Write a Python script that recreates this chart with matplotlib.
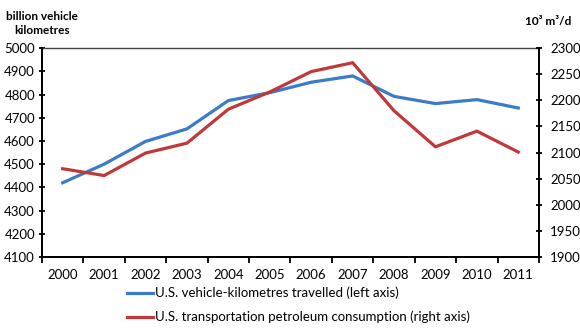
import matplotlib.pyplot as plt
from matplotlib.lines import Line2D

plt.rcParams['font.family'] = ['Lato', 'DejaVu Sans']

years = ["2000", "2001", "2002", "2003", "2004", "2005",
         "2006", "2007", "2008", "2009", "2010", "2011"]
vkt = [4420, 4500, 4598, 4652, 4774, 4808, 4853, 4880, 4792, 4761, 4778, 4742]
petrol = [2069, 2056, 2099, 2118, 2183, 2216, 2255, 2272, 2180, 2111, 2141, 2101]

blue = "#3b7bc8"
red = "#c0393a"

fig = plt.figure(figsize=(5.8, 3.34), dpi=100)
ax = fig.add_axes([0.0724, 0.2305, 0.8569, 0.6255])
ax2 = ax.twinx()

x = list(range(len(years)))
ax.plot(x, vkt, color=blue, linewidth=2.3, solid_joinstyle="miter")
ax2.plot(x, petrol, color=red, linewidth=2.3, solid_joinstyle="miter")

ax.set_xlim(-0.5, len(years) - 0.5)
ax.set_ylim(4100, 5000)
ax.set_yticks(range(4100, 5001, 100))
ax2.set_ylim(1900, 2300)
ax2.set_yticks(range(1900, 2301, 50))

ax.set_xticks([i - 0.5 for i in range(len(years) + 1)])
ax.set_xticklabels([])
ax.set_xticks(x, minor=True)
ax.set_xticklabels(years, minor=True)
ax.tick_params(axis="x", which="minor", length=0, pad=8.5, labelsize=9.5)
ax.tick_params(axis="x", which="major", length=4, width=1.3, direction="out")
ax.tick_params(axis="y", length=4, width=1.3, direction="inout", labelsize=9.5, pad=3)
ax2.tick_params(axis="y", length=4, width=1.3, direction="inout", labelsize=9.5, pad=6)

for a in (ax, ax2):
    for s in a.spines.values():
        s.set_linewidth(1.3)
ax.spines["top"].set_color("#444444")
ax.spines["top"].set_linewidth(1.0)
ax2.spines["top"].set_visible(False)

fig.text(0.073, 0.952, "billion vehicle", ha="center", va="center",
         fontsize=8.5, fontweight="bold")
fig.text(0.073, 0.91, "kilometres", ha="center", va="center",
         fontsize=8.5, fontweight="bold")
fig.text(0.945, 0.937, "10³ m³/d", ha="center", va="center",
         fontsize=8.5, fontweight="bold")

handles = [Line2D([], [], color=blue, linewidth=2.3),
           Line2D([], [], color=red, linewidth=2.3)]
labels = ["U.S. vehicle-kilometres travelled (left axis)",
          "U.S. transportation petroleum consumption (right axis)"]
fig.legend(handles, labels, loc="upper left", bbox_to_anchor=(0.219, 0.141),
           frameon=False, fontsize=9.5, handlelength=2.0, handletextpad=0.15,
           labelspacing=0.85, borderaxespad=0, borderpad=0)

plt.savefig("out.png", dpi=100)
